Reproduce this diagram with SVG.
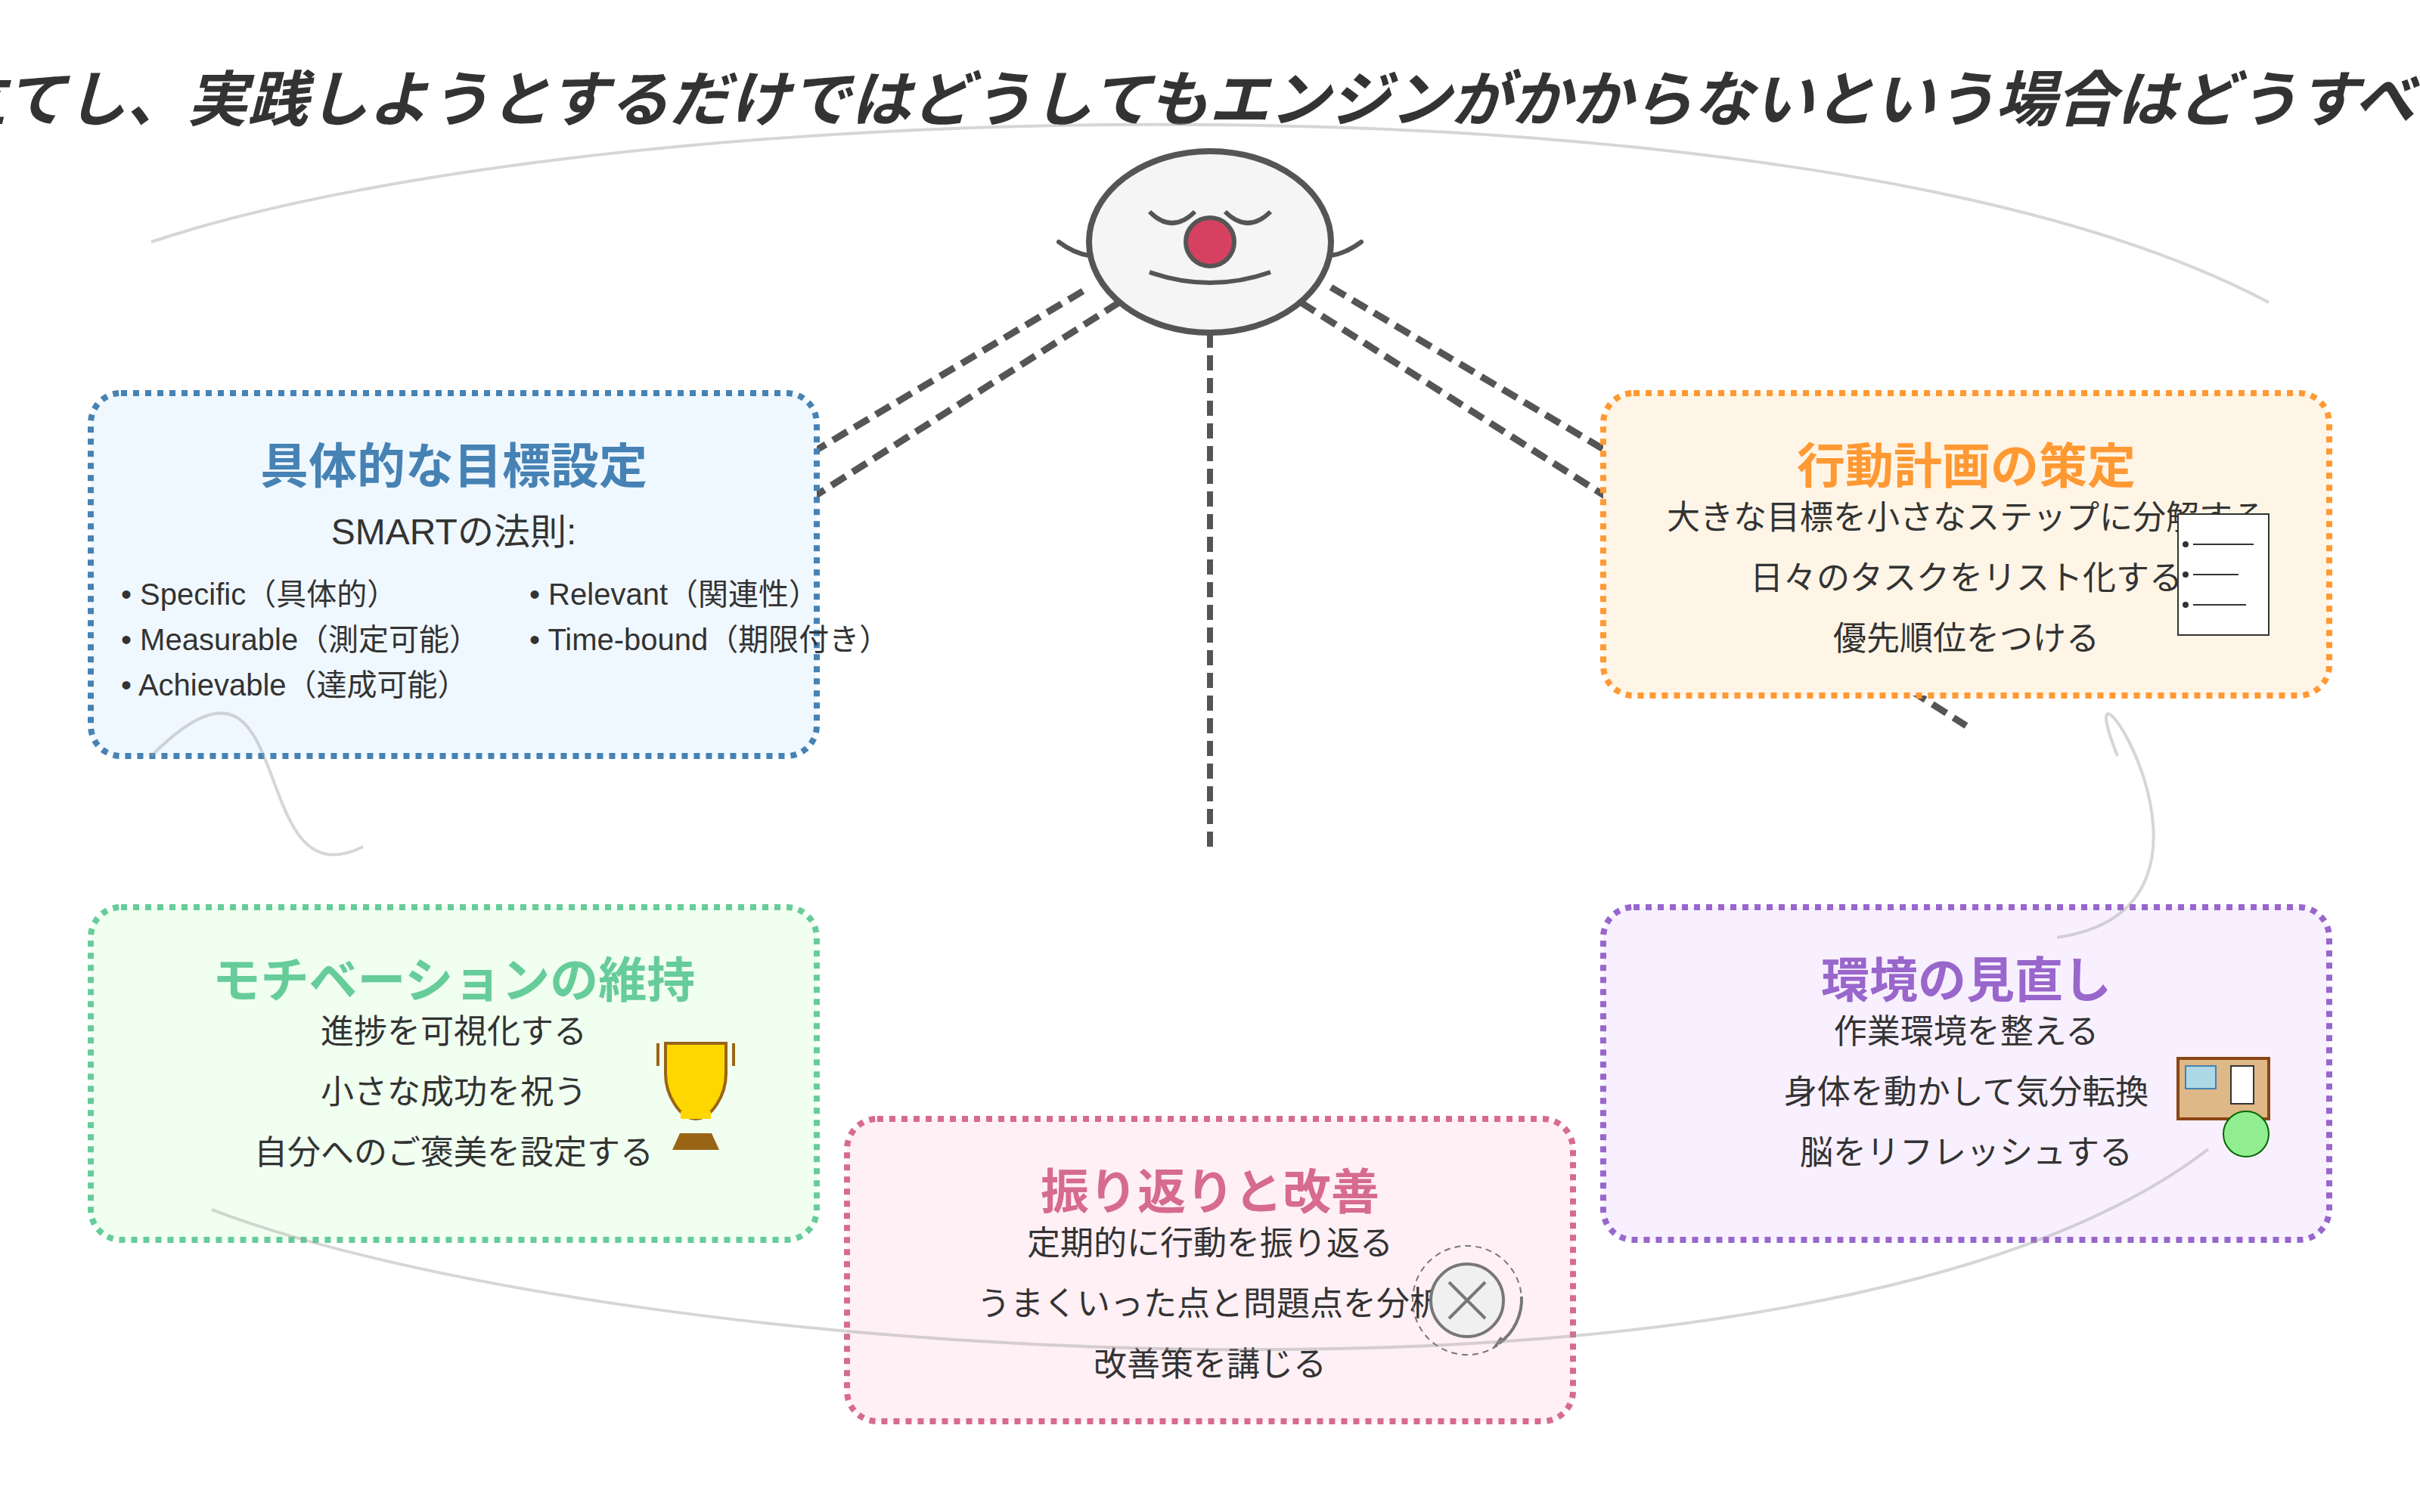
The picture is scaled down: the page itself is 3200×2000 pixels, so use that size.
<svg xmlns="http://www.w3.org/2000/svg" width="3200" height="2000" viewBox="0 0 3200 2000">
<style>
text{font-family:"Liberation Sans","Noto Sans CJK JP",sans-serif;fill:#333}
.title{font-size:80px;font-weight:bold;font-style:italic}
.head{font-size:64px;font-weight:bold;text-anchor:middle}
.sub{font-size:48px;text-anchor:middle}
.item{font-size:44px;text-anchor:middle}
.sm{font-size:40px}
.box{stroke-width:8;stroke-dasharray:8 8}
.dash{fill:none;stroke:#555;stroke-width:8;stroke-dasharray:20 10}
.diag{fill:none;stroke:#555;stroke-width:9;stroke-dasharray:22 11}
.flow{fill:none;stroke:#999;stroke-opacity:.4;stroke-width:4}
.face{fill:none;stroke:#555;stroke-width:6}
.arm{stroke-linecap:round}
</style>
<rect width="3200" height="2000" fill="#fff"/>
<text id="title" class="title" x="1560" y="160" text-anchor="middle">立てし、実践しようとするだけではどうしてもエンジンがかからないという場合はどうすべ</text>
<g id="spokes">
<path class="diag" d="M1480,400 L600,960"/>
<path class="diag" d="M1432,385 L1080,595"/>
<path class="dash" d="M1600,320 L1600,1120"/>
<path class="diag" d="M1760,380 L2120,594"/>
<path class="diag" d="M1720,400 L2600,960"/>
</g>
<g id="mascot">
<ellipse cx="1600" cy="320" rx="160" ry="120" fill="#f5f5f5" stroke="#555" stroke-width="8"/>
<circle cx="1600" cy="320" r="32" fill="#d64161" stroke="#555" stroke-width="6"/>
<path class="face" d="M1520,280 Q1550,310 1580,280"/>
<path class="face" d="M1620,280 Q1650,310 1680,280"/>
<path class="face" d="M1520,360 Q1600,388 1680,360"/>
<path class="face arm" d="M1400,320 Q1420,335 1440,338"/>
<path class="face arm" d="M1800,320 Q1780,335 1760,338"/>
</g>
<g id="goal">
<rect class="box" x="120" y="520" width="960" height="480" rx="40" fill="#f0f8ff" stroke="#4682b4"/>
<text class="head" x="600" y="639" style="fill:#4682b4">具体的な目標設定</text>
<text class="sub" x="600" y="720">SMARTの法則:</text>
<text class="sm" x="160" y="800">• Specific（具体的）</text>
<text class="sm" x="160" y="860">• Measurable（測定可能）</text>
<text class="sm" x="160" y="920">• Achievable（達成可能）</text>
<text class="sm" x="700" y="800">• Relevant（関連性）</text>
<text class="sm" x="700" y="860">• Time-bound（期限付き）</text>
</g>
<g id="plan">
<rect class="box" x="2120" y="520" width="960" height="400" rx="40" fill="#fff5e6" stroke="#f93"/>
<text class="head" x="2600" y="639" style="fill:#f93">行動計画の策定</text>
<text class="item" x="2600" y="700">大きな目標を小さなステップに分解する</text>
<text class="item" x="2600" y="780">日々のタスクをリスト化する</text>
<text class="item" x="2600" y="860">優先順位をつける</text>
<rect x="2880" y="680" width="120" height="160" fill="#fff" stroke="#333" stroke-width="2"/>
<circle cx="2890" cy="720" r="4" fill="#333"/><circle cx="2890" cy="760" r="4" fill="#333"/><circle cx="2890" cy="800" r="4" fill="#333"/>
<path d="M2900,720H2980M2900,760H2960M2900,800H2970" stroke="#333" stroke-width="2"/>
</g>
<g id="motivation">
<rect class="box" x="120" y="1200" width="960" height="440" rx="40" fill="#f0fff0" stroke="#6c9"/>
<text class="head" x="600" y="1319" style="fill:#6c9">モチベーションの維持</text>
<text class="item" x="600" y="1380">進捗を可視化する</text>
<text class="item" x="600" y="1460">小さな成功を祝う</text>
<text class="item" x="600" y="1540">自分へのご褒美を設定する</text>
<path d="M880,1380H960V1420C960,1450 940,1480 920,1480C900,1480 880,1450 880,1420Z" fill="#ffd700" stroke="#996515" stroke-width="4"/>
<path d="M870,1380V1410M970,1380V1410" stroke="#996515" stroke-width="4"/>
<rect x="900" y="1470" width="40" height="10" fill="#ffd700"/>
<path d="M899,1499H941L951,1521H889Z" fill="#996515"/>
</g>
<g id="review">
<rect class="box" x="1120" y="1480" width="960" height="400" rx="40" fill="#fff0f5" stroke="#d66b8f"/>
<text class="head" x="1600" y="1599" style="fill:#d66b8f">振り返りと改善</text>
<text class="item" x="1600" y="1660">定期的に行動を振り返る</text>
<text class="item" x="1600" y="1740">うまくいった点と問題点を分析</text>
<text class="item" x="1600" y="1820">改善策を講じる</text>
<circle cx="1940" cy="1720" r="48" fill="#f0f0f0" stroke="#777" stroke-width="4"/>
<path d="M1916,1696L1964,1744M1964,1696L1916,1744" stroke="#777" stroke-width="4"/>
<circle cx="1940" cy="1720" r="72" fill="none" stroke="#777" stroke-width="2" stroke-dasharray="8 6"/>
<path d="M2012,1715A72,72 0 0 1 1982,1777" fill="none" stroke="#777" stroke-width="4"/>
<path d="M1973,1784L1984,1768L1990,1773Z" fill="#777"/>
</g>
<g id="environment">
<rect class="box" x="2120" y="1200" width="960" height="440" rx="40" fill="#f8f0ff" stroke="#96c"/>
<text class="head" x="2600" y="1319" style="fill:#96c">環境の見直し</text>
<text class="item" x="2600" y="1380">作業環境を整える</text>
<text class="item" x="2600" y="1460">身体を動かして気分転換</text>
<text class="item" x="2600" y="1540">脳をリフレッシュする</text>
<rect x="2880" y="1400" width="120" height="80" fill="#deb887" stroke="#8b4513" stroke-width="4"/>
<rect x="2890" y="1410" width="40" height="30" fill="#add8e6" stroke="#4682b4" stroke-width="2"/>
<rect x="2950" y="1410" width="30" height="50" fill="#fff" stroke="#333" stroke-width="2"/>
<circle cx="2970" cy="1500" r="30" fill="#90ee90" stroke="#060" stroke-width="2"/>
</g>
<g id="flows">
<path class="flow" d="M200,320C800,120 2400,80 3000,400"/>
<path class="flow" d="M2720,1240C3000,1200 2720,800 2800,1000"/>
<path class="flow" d="M280,1600C800,1800 2400,1920 2920,1520"/>
<path class="flow" d="M480,1120C320,1200 400,800 200,1000"/>
</g>
</svg>
